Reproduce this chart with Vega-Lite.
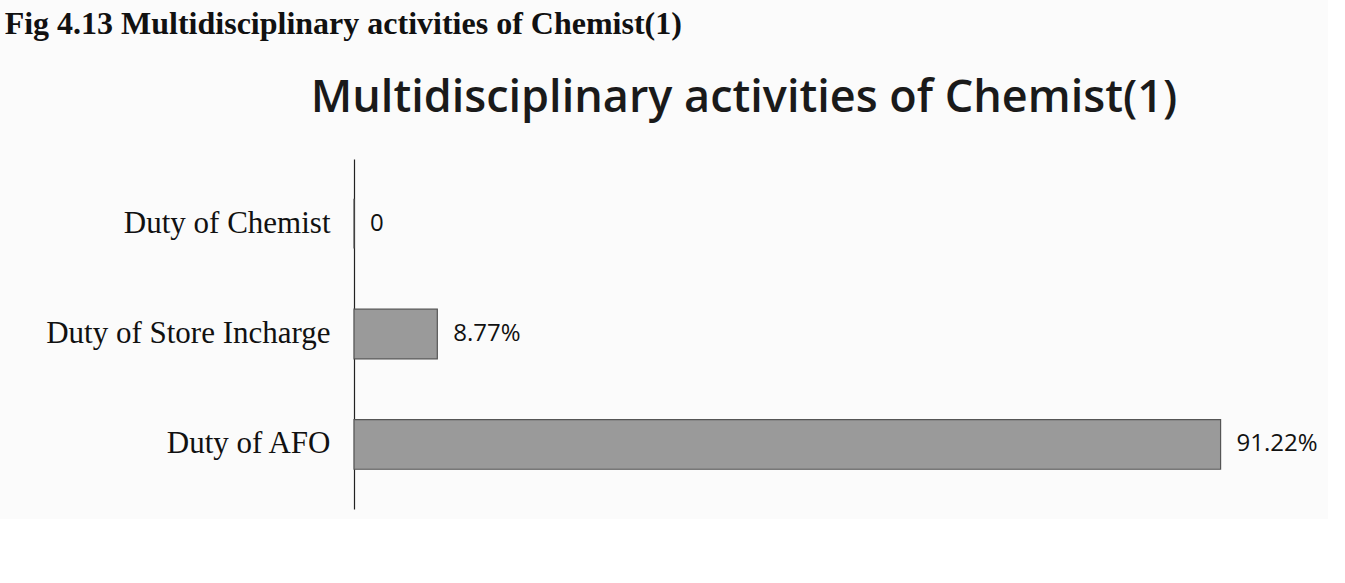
{
  "$schema": "https://vega.github.io/schema/vega-lite/v6.json",
  "background": "#fbfbfb",
  "padding": {"left": 4, "top": 8, "right": 10, "bottom": 10},
  "title": {
    "text": "Fig 4.13 Multidisciplinary activities of Chemist(1)",
    "anchor": "start",
    "font": "Liberation Serif",
    "fontSize": 32,
    "fontWeight": "bold",
    "color": "#111",
    "dx": -41,
    "offset": 35
  },
  "vconcat": [
    {
      "width": 950,
      "height": 350,
      "title": {
        "text": "Multidisciplinary activities of Chemist(1)",
        "font": "Open Sans",
        "fontSize": 45,
        "fontWeight": 600,
        "color": "#1a1a1a",
        "anchor": "middle",
        "dx": -85,
        "offset": 38
      },
      "data": {
        "values": [
          {"activity": "Duty of Chemist", "value": 0, "label": "0"},
          {"activity": "Duty of Store Incharge", "value": 8.77, "label": "8.77%"},
          {"activity": "Duty of AFO", "value": 91.22, "label": "91.22%"}
        ]
      },
      "encoding": {
        "y": {
          "field": "activity",
          "type": "nominal",
          "sort": ["Duty of Chemist", "Duty of Store Incharge", "Duty of AFO"],
          "scale": {"paddingInner": 0.55, "paddingOuter": 0.36},
          "axis": {
            "title": null,
            "ticks": false,
            "domain": true,
            "domainColor": "#222",
            "domainWidth": 1.2,
            "labelFont": "Liberation Serif",
            "labelFontSize": 31,
            "labelColor": "#111",
            "labelPadding": 24,
            "labelLimit": 400
          }
        },
        "x": {
          "field": "value",
          "type": "quantitative",
          "scale": {"domain": [0, 100]},
          "axis": null
        }
      },
      "layer": [
        {
          "mark": {"type": "bar", "color": "#9a9a9a", "stroke": "#555", "strokeWidth": 1.2}
        },
        {
          "mark": {"type": "text", "align": "left", "dx": 16, "font": "Open Sans", "fontSize": 24, "color": "#111"},
          "encoding": {"text": {"field": "label"}}
        }
      ]
    }
  ],
  "config": {"view": {"stroke": null}}
}
